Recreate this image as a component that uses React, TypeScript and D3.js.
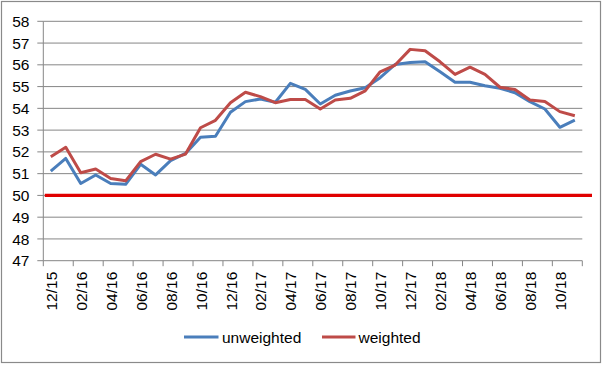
import React from "react";
import * as d3 from "d3";

const categories = [
  "12/15","01/16","02/16","03/16","04/16","05/16","06/16","07/16","08/16","09/16","10/16","11/16",
  "12/16","01/17","02/17","03/17","04/17","05/17","06/17","07/17","08/17","09/17","10/17","11/17",
  "12/17","01/18","02/18","03/18","04/18","05/18","06/18","07/18","08/18","09/18","10/18","11/18",
];
const unweighted = [51.12, 51.70, 50.55, 50.94, 50.55, 50.51, 51.43, 50.94, 51.60, 51.93, 52.67, 52.72, 53.82, 54.31, 54.43, 54.28, 55.15, 54.87, 54.20, 54.60, 54.80, 54.95, 55.41, 56.02, 56.11, 56.14, 55.68, 55.20, 55.20, 55.04, 54.92, 54.72, 54.31, 53.97, 53.13, 53.46];
const weighted = [51.78, 52.21, 51.04, 51.21, 50.78, 50.67, 51.55, 51.89, 51.67, 51.90, 53.11, 53.45, 54.26, 54.74, 54.54, 54.26, 54.41, 54.41, 53.97, 54.38, 54.46, 54.80, 55.68, 55.99, 56.71, 56.65, 56.14, 55.56, 55.89, 55.56, 54.97, 54.87, 54.38, 54.32, 53.85, 53.66];
const yTicks = [47, 48, 49, 50, 51, 52, 53, 54, 55, 56, 57, 58];
const threshold = 50;
const seriesNames = ["unweighted", "weighted"];

const W = 603, H = 365;
const left = 43.3, right = 582.3, top = 21.3, bottom = 260.7;
const font = "'Liberation Sans', Arial, sans-serif";
const blue = "#4A7EBB";
const red = "#BE4B48";
const grid = "#868686";

export default function App() {
  const x = d3.scaleBand<string>().domain(categories).range([left, right]).padding(0);
  const y = d3.scaleLinear().domain([47, 58]).range([bottom, top]);
  const cx = (i: number) => (x(categories[i]) as number) + x.bandwidth() / 2;
  const line = d3.line<number>().x((_, i) => cx(i)).y((v) => y(v));
  const tickIdx = categories.map((_, i) => i).filter((i) => i % 2 === 0);

  return (
    <svg width={W} height={H} style={{ position: "absolute", left: 0, top: 0, background: "#fff" }} fontFamily={font}>
      <rect x={1.5} y={1.5} width={599} height={361} fill="#fff" stroke="#8a8a8a" strokeWidth={1.2} />
      {yTicks.map((t) => (
        <g key={t}>
          {t !== 47 && <line x1={left} x2={right} y1={y(t)} y2={y(t)} stroke={grid} strokeWidth={1} />}
          <line x1={left - 6} x2={left} y1={y(t)} y2={y(t)} stroke={grid} strokeWidth={1} />
          <text x={29.5} y={y(t)} dy="0.36em" textAnchor="end" fontSize={15.5} fill="#000">{t}</text>
        </g>
      ))}
      <line x1={left} x2={left} y1={top} y2={bottom} stroke={grid} strokeWidth={1} />
      <line x1={left} x2={right} y1={bottom} y2={bottom} stroke={grid} strokeWidth={1} />
      {tickIdx.map((i) => (
        <line key={"t" + i} x1={x(categories[i]) as number} x2={x(categories[i]) as number} y1={bottom} y2={bottom + 5.5} stroke={grid} strokeWidth={1} />
      ))}
      <line x1={right} x2={right} y1={bottom} y2={bottom + 5.5} stroke={grid} strokeWidth={1} />
      {tickIdx.map((i) => (
        <text key={"l" + i} transform={`translate(${cx(i) + 0.5},${bottom + 11}) rotate(-90)`} textAnchor="end" dy="0.36em" fontSize={15.5} fill="#000">
          {categories[i]}
        </text>
      ))}
      <line x1={left + 1.5} x2={592} y1={y(threshold)} y2={y(threshold)} stroke="#E00000" strokeWidth={3.2} />
      <path d={line(unweighted) || ""} fill="none" stroke={blue} strokeWidth={3} strokeLinejoin="round" />
      <path d={line(weighted) || ""} fill="none" stroke={red} strokeWidth={3} strokeLinejoin="round" />
      <line x1={184} x2={218.5} y1={337} y2={337} stroke={blue} strokeWidth={3} />
      <text x={222} y={337} dy="0.36em" fontSize={15.5} fill="#000">{seriesNames[0]}</text>
      <line x1={322} x2={355.5} y1={337} y2={337} stroke={red} strokeWidth={3} />
      <text x={358.5} y={337} dy="0.36em" fontSize={15.5} fill="#000">{seriesNames[1]}</text>
    </svg>
  );
}
